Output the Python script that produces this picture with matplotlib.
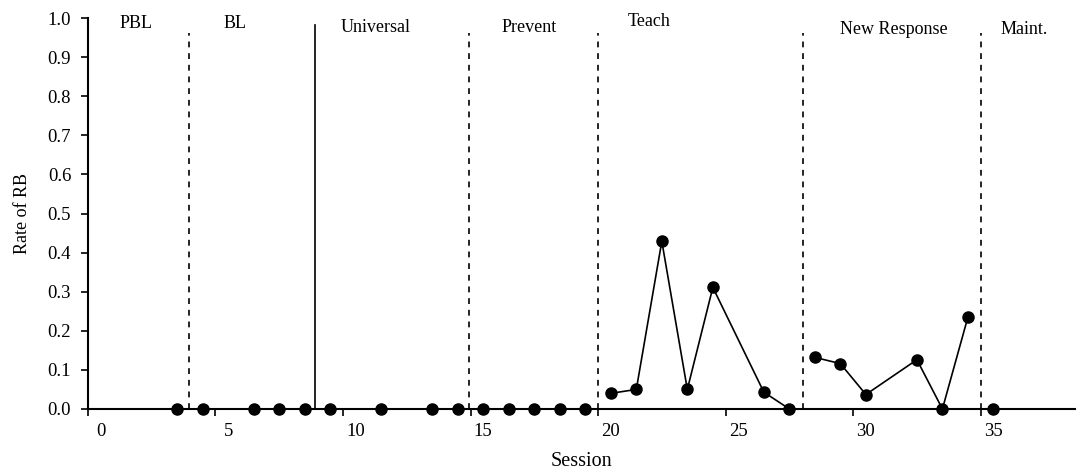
import matplotlib.pyplot as plt
from matplotlib.ticker import FixedLocator, FormatStrFormatter

plt.rcParams['font.family'] = ['Liberation Serif', 'DejaVu Serif']

# sessions and rates per phase (points connected within a phase only)
phases = {
    "PBL": ([3], [0.0]),
    "BL": ([4, 6, 7, 8], [0.0, 0.0, 0.0, 0.0]),
    "Universal": ([9, 11, 13, 14], [0.0, 0.0, 0.0, 0.0]),
    "Prevent": ([15, 16, 17, 18, 19], [0.0, 0.0, 0.0, 0.0, 0.0]),
    "Teach": ([20, 21, 22, 23, 24, 26, 27],
              [0.040, 0.050, 0.429, 0.050, 0.311, 0.043, 0.0]),
    "New Response": ([28, 29, 30, 32, 33, 34],
                     [0.132, 0.116, 0.037, 0.126, 0.0, 0.235]),
    "Maint.": ([35], [0.0]),
}

label_x = [1.4, 5.25, 10.8, 16.8, 21.5, 31.1, 36.2]
label_y = [0.985, 0.985, 0.975, 0.975, 0.99, 0.97, 0.97]

dashed_lines = [3.45, 14.45, 19.5, 27.55, 34.5]
solid_line = 8.4

fig = plt.figure(figsize=(10.81, 4.75), dpi=100)
ax = fig.add_axes([0.0813, 0.139, 0.9132, 0.823])

for name, (xs, ys) in phases.items():
    ax.plot(xs, ys, color='black', lw=1.2, marker='o', ms=8,
            clip_on=False, zorder=3)

for x in dashed_lines:
    ax.plot([x, x], [0, 0.963], color='black', lw=1.2, ls=(0, (3.5, 3.5)))
ax.plot([solid_line, solid_line], [0, 0.982], color='black', lw=1.2)

for (name, lx, ly) in zip(phases.keys(), label_x, label_y):
    ax.text(lx, ly, name, ha='center', va='center', fontsize=13)

ax.set_xlim(-0.5, 38.2)
ax.set_ylim(0, 1.0)

# labels sit at integer sessions, tick marks half a session to the left
ax.xaxis.set_major_locator(FixedLocator([0, 5, 10, 15, 20, 25, 30, 35]))
ax.xaxis.set_minor_locator(FixedLocator([-0.5, 4.5, 9.5, 14.5, 19.5, 24.5, 29.5, 34.5]))
ax.tick_params(axis='x', which='major', length=0, labelsize=13.5, pad=10)
ax.tick_params(axis='x', which='minor', length=5, width=1.2, direction='out')
ax.set_yticks([i / 10 for i in range(11)])
ax.yaxis.set_major_formatter(FormatStrFormatter('%.1f'))
ax.tick_params(axis='y', length=5, width=1.2, direction='out',
               labelsize=13.5, pad=7)

for side in ['top', 'right']:
    ax.spines[side].set_visible(False)
for side in ['left', 'bottom']:
    ax.spines[side].set_linewidth(1.5)

ax.set_xlabel('Session', fontsize=14.5, labelpad=9)
ax.set_ylabel('Rate of RB', fontsize=13, labelpad=12)

fig.savefig('out.png', dpi=100)
